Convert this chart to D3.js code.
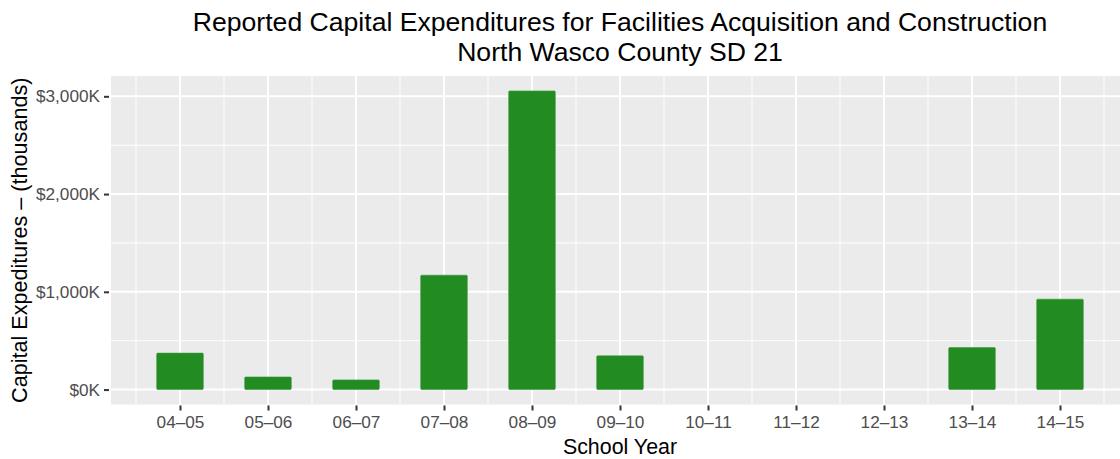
<!DOCTYPE html>
<html><head><meta charset="utf-8">
<script src="https://cdn.jsdelivr.net/npm/d3@7"></script>
<style>body{margin:0;background:#fff}svg{display:block;font-family:"Liberation Sans",Arial,sans-serif}</style>
</head><body><svg id="c" width="1120" height="459"></svg>
<script>
const categories = ["04\u201305","05\u201306","06\u201307","07\u201308","08\u201309","09\u201310","10\u201311","11\u201312","12\u201313","13\u201314","14\u201315"];
const values = [373, 129, 99, 1170, 3055, 345, 0, 0, 0, 430, 925];
const yTicks = [0, 1000, 2000, 3000];
const yMinor = [500, 1500, 2500];
const titleLines = ["Reported Capital Expenditures for Facilities Acquisition and Construction","North Wasco County SD 21"];
const xTitle = "School Year";
const yTitle = "Capital Expeditures \u2013 (thousands)";

const svg = d3.select("#c");
const P = {l:111, r:1129, t:76, b:404.5};
const x = d3.scalePoint().domain(categories).range([P.l, P.r]).padding(0.784);
const step = x.step();
const maxV = d3.max(values);
const y = d3.scaleLinear().domain([-0.05*maxV, 1.05*maxV]).range([P.b, P.t]);

svg.append("rect").attr("x",P.l).attr("y",P.t).attr("width",P.r-P.l).attr("height",P.b-P.t).attr("fill","#EBEBEB");
const g = svg.append("g");
yMinor.forEach(v=>g.append("line").attr("x1",P.l).attr("x2",P.r).attr("y1",y(v)).attr("y2",y(v)).attr("stroke","#fff").attr("stroke-width",1));
categories.forEach(c=>{const xv = x(c)-step/2; g.append("line").attr("x1",xv).attr("x2",xv).attr("y1",P.t).attr("y2",P.b).attr("stroke","#fff").attr("stroke-width",1);});
{const xv = x(categories[categories.length-1])+step/2; g.append("line").attr("x1",xv).attr("x2",xv).attr("y1",P.t).attr("y2",P.b).attr("stroke","#fff").attr("stroke-width",1);}
yTicks.forEach(v=>g.append("line").attr("x1",P.l).attr("x2",P.r).attr("y1",y(v)).attr("y2",y(v)).attr("stroke","#fff").attr("stroke-width",2));
categories.forEach(c=>g.append("line").attr("x1",x(c)).attr("x2",x(c)).attr("y1",P.t).attr("y2",P.b).attr("stroke","#fff").attr("stroke-width",2));

const bw = step*0.53;
svg.append("g").selectAll("rect").data(categories).join("rect")
  .attr("x",(d)=>x(d)-bw/2).attr("width",bw)
  .attr("y",(d,i)=>y(Math.max(0,values[i]))).attr("height",(d,i)=>Math.abs(y(0)-y(values[i])))
  .attr("fill","#228B22").attr("stroke","#3a9a3a").attr("stroke-width",0.6)
  .attr("rx",1);

const fmt = v=>"$"+d3.format(",")(v)+"K";
const yAxis = d3.axisLeft(y).tickValues(yTicks).tickFormat(fmt).tickSize(5).tickPadding(4);
const ya = svg.append("g").attr("transform",`translate(${P.l-2},0)`).call(yAxis);
ya.select(".domain").remove();
ya.selectAll(".tick line").attr("stroke","#333").attr("stroke-width",2);
ya.selectAll(".tick text").attr("fill","#4D4D4D").style("font-size","17.2px").style("font-family","Liberation Sans, Arial, sans-serif");

const xAxis = d3.axisBottom(x).tickSize(5).tickPadding(5);
const xa = svg.append("g").attr("transform",`translate(0,${P.b+1})`).call(xAxis);
xa.select(".domain").remove();
xa.selectAll(".tick line").attr("stroke","#333").attr("stroke-width",2);
xa.selectAll(".tick text").attr("fill","#4D4D4D").style("font-size","17.2px").style("font-family","Liberation Sans, Arial, sans-serif");

svg.append("text").attr("x",(P.l+P.r)/2).attr("y",454).attr("text-anchor","middle").style("font-size","21.4px").attr("fill","#000").text(xTitle);
svg.append("text").attr("transform",`translate(27,${(P.t+P.b)/2}) rotate(-90)`).attr("text-anchor","middle").style("font-size","21.6px").attr("fill","#000").text(yTitle);

titleLines.forEach((t,i)=>svg.append("text").attr("x",(P.l+P.r)/2).attr("y",31+i*30).attr("text-anchor","middle").style("font-size","26.6px").attr("fill","#000").text(t));
</script></body></html>
